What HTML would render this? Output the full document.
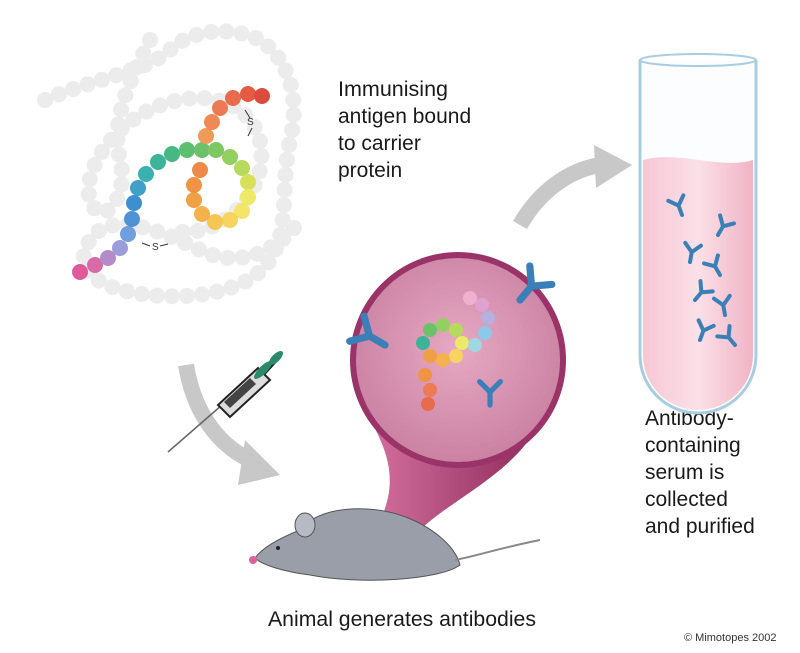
<!DOCTYPE html>
<html><head><meta charset="utf-8"><style>
body{margin:0;background:#fff;}
svg{display:block;font-family:"Liberation Sans",sans-serif;}
</style></head><body>
<svg width="800" height="653" viewBox="0 0 800 653" xmlns="http://www.w3.org/2000/svg">
<defs>
<radialGradient id="mag" cx="0.5" cy="0.45" r="0.6"><stop offset="0" stop-color="#e6a9c3"/><stop offset="1" stop-color="#c87d9f"/></radialGradient>
<linearGradient id="funnel" x1="0" y1="0" x2="1" y2="0"><stop offset="0" stop-color="#d46f9e"/><stop offset="1" stop-color="#8d2a5a"/></linearGradient>
<linearGradient id="tube" x1="0" y1="0" x2="1" y2="0"><stop offset="0" stop-color="#f6c7d4"/><stop offset="0.5" stop-color="#fbe0e8"/><stop offset="1" stop-color="#f0b4c5"/></linearGradient>
<g id="ab"><path d="M0,0 L0,-10 M0,-10 L-8,-18 M0,-10 L8,-18" stroke="#3a7fb8" stroke-width="4" fill="none" stroke-linecap="round"/></g>
</defs>
<g fill="none" stroke="#ececec" stroke-width="16" stroke-linecap="round" stroke-dasharray="0.1 15">
<path d="M45,100 C90,80 150,70 170,50 C190,30 230,25 260,40 C290,60 300,100 290,140 C280,190 290,230 270,260 C250,290 200,300 150,295 C100,290 70,270 90,240 C110,210 160,230 200,250 C240,270 280,250 300,220"/>
<path d="M150,40 C130,80 110,120 120,160 C130,200 100,230 90,200 C80,170 120,110 180,100 C230,90 270,120 260,170 C250,210 210,240 170,230"/>
</g>
<g stroke="none">
<circle cx="80" cy="272" r="8" fill="#e05a9a"/><circle cx="95" cy="265" r="8" fill="#d86aa8"/><circle cx="108" cy="258" r="8" fill="#b58ac8"/><circle cx="120" cy="248" r="8" fill="#9b9cd8"/>
<circle cx="128" cy="234" r="8" fill="#6f9fdc"/><circle cx="132" cy="219" r="8" fill="#4f92d6"/><circle cx="134" cy="203" r="8" fill="#3d8fd0"/><circle cx="138" cy="188" r="8" fill="#3fa0c8"/>
<circle cx="146" cy="174" r="8" fill="#3ab0b0"/><circle cx="158" cy="162" r="8" fill="#3db39a"/><circle cx="172" cy="154" r="8" fill="#45b884"/><circle cx="187" cy="150" r="8" fill="#5bbf70"/>
<circle cx="202" cy="150" r="8" fill="#6cc26a"/><circle cx="216" cy="150" r="8" fill="#7ec861"/><circle cx="230" cy="157" r="8" fill="#93d05f"/><circle cx="242" cy="168" r="8" fill="#b8da5c"/>
<circle cx="248" cy="182" r="8" fill="#d8e05a"/><circle cx="248" cy="197" r="8" fill="#ecea66"/><circle cx="242" cy="211" r="8" fill="#f4e46a"/><circle cx="230" cy="220" r="8" fill="#f6d45e"/>
<circle cx="215" cy="222" r="8" fill="#f6c654"/><circle cx="202" cy="214" r="8" fill="#f3b24b"/><circle cx="194" cy="200" r="8" fill="#f0a044"/><circle cx="194" cy="185" r="8" fill="#ef9444"/>
<circle cx="200" cy="170" r="8" fill="#ee8a48"/><circle cx="206" cy="136" r="8" fill="#f09a5a"/><circle cx="212" cy="122" r="8" fill="#ee8a55"/><circle cx="220" cy="108" r="8" fill="#ec7a52"/>
<circle cx="233" cy="98" r="8" fill="#e96a4c"/><circle cx="248" cy="94" r="8" fill="#e45a44"/><circle cx="262" cy="96" r="8" fill="#dc4c3e"/>
</g>
<text x="247" y="125" font-size="10" fill="#333">S</text>
<text x="152" y="250" font-size="10" fill="#333">S</text>
<path d="M142,243 L150,246 M160,246 L168,244 M245,110 L250,118 M252,128 L248,136" stroke="#333" stroke-width="1"/>
<g font-size="21" fill="#1a1a1a">
<text x="338" y="96" textLength="110" lengthAdjust="spacingAndGlyphs">Immunising</text><text x="338" y="123">antigen bound</text><text x="338" y="150">to carrier</text><text x="338" y="177">protein</text>
<text x="645" y="425">Antibody-</text><text x="645" y="452">containing</text><text x="645" y="479">serum is</text><text x="645" y="506">collected</text><text x="645" y="533">and purified</text>
<text x="268" y="626" textLength="268" lengthAdjust="spacingAndGlyphs">Animal generates antibodies</text>
</g>
<text x="684" y="641" font-size="11" fill="#333">© Mimotopes 2002</text>
<path d="M520,225 C540,190 570,170 600,165" stroke="#c8c8c8" stroke-width="16" fill="none"/>
<polygon points="594,145 632,165 596,188" fill="#c8c8c8"/>
<path d="M186,365 C195,420 225,450 255,462" stroke="#c8c8c8" stroke-width="16" fill="none"/>
<polygon points="245,440 280,475 238,485" fill="#c8c8c8"/>
<path d="M640,60 L640,355 A58,58 0 0 0 756,355 L756,60" fill="#fbfdff" stroke="#a9cde0" stroke-width="3"/>
<path d="M643,160 C680,150 720,170 753,160 L753,355 A55,55 0 0 1 643,355 Z" fill="url(#tube)"/>
<ellipse cx="698" cy="60" rx="58" ry="6" fill="none" stroke="#a9cde0" stroke-width="2"/>
<use href="#ab" transform="translate(682,215) rotate(-20)"/><use href="#ab" transform="translate(718,235) rotate(30)"/>
<use href="#ab" transform="translate(690,262) rotate(10)"/><use href="#ab" transform="translate(720,275) rotate(-30)"/>
<use href="#ab" transform="translate(695,300) rotate(40)"/><use href="#ab" transform="translate(725,315) rotate(-10)"/>
<use href="#ab" transform="translate(700,340) rotate(20)"/><use href="#ab" transform="translate(735,345) rotate(-40)"/>
<path d="M370,420 C400,470 390,500 378,525 L420,530 C450,500 520,470 540,420 Z" fill="url(#funnel)"/>
<circle cx="458" cy="360" r="105" fill="url(#mag)" stroke="#9a3468" stroke-width="6"/>
<use href="#ab" transform="translate(385,345) rotate(-60) scale(1.8)"/>
<use href="#ab" transform="translate(520,300) rotate(40) scale(1.8)"/>
<use href="#ab" transform="translate(490,405) scale(1.3)"/>
<g>
<circle cx="430" cy="330" r="7" fill="#6cc26a"/><circle cx="443" cy="325" r="7" fill="#93d05f"/><circle cx="456" cy="330" r="7" fill="#b8da5c"/><circle cx="462" cy="343" r="7" fill="#ecea66"/>
<circle cx="456" cy="356" r="7" fill="#f6d45e"/><circle cx="443" cy="360" r="7" fill="#f3b24b"/><circle cx="430" cy="356" r="7" fill="#f0a044"/><circle cx="423" cy="343" r="7" fill="#3db39a"/>
<circle cx="425" cy="375" r="7" fill="#ef9444"/><circle cx="430" cy="390" r="7" fill="#ec7a52"/><circle cx="428" cy="404" r="7" fill="#e96a4c"/>
<circle cx="475" cy="345" r="7" fill="#9ed8e0"/><circle cx="485" cy="333" r="7" fill="#8cc8e8"/><circle cx="488" cy="318" r="7" fill="#b5b0e0"/><circle cx="482" cy="305" r="7" fill="#e0a0d0"/><circle cx="470" cy="298" r="7" fill="#f0b0d0"/>
</g>
<line x1="168" y1="452" x2="222" y2="405" stroke="#666" stroke-width="1.5"/>
<path d="M218,405 L258,368 L270,380 L230,417 Z" fill="#ddd" stroke="#222" stroke-width="2"/>
<path d="M224,402 L250,378 L256,384 L230,408 Z" fill="#444"/>
<line x1="264" y1="374" x2="275" y2="362" stroke="#222" stroke-width="3"/>
<ellipse cx="263" cy="370" rx="12" ry="4" transform="rotate(-45 263 370)" fill="#2a8a6a"/>
<ellipse cx="276" cy="358" rx="9" ry="4" transform="rotate(-45 276 358)" fill="#2a8a6a"/>
<path d="M300,530 C320,505 370,505 400,515 C430,525 455,545 460,565 C440,580 360,585 310,575 C285,572 262,565 255,558 C262,548 280,538 300,530 Z" fill="#9a9ea8" stroke="#555" stroke-width="1"/>
<path d="M455,560 C480,555 500,548 540,540" stroke="#888" stroke-width="2" fill="none"/>
<ellipse cx="305" cy="525" rx="10" ry="12" fill="#b6bac2" stroke="#555"/>
<circle cx="253" cy="560" r="4" fill="#e0609a"/>
<circle cx="278" cy="548" r="2" fill="#222"/>
</svg>
</body></html>
